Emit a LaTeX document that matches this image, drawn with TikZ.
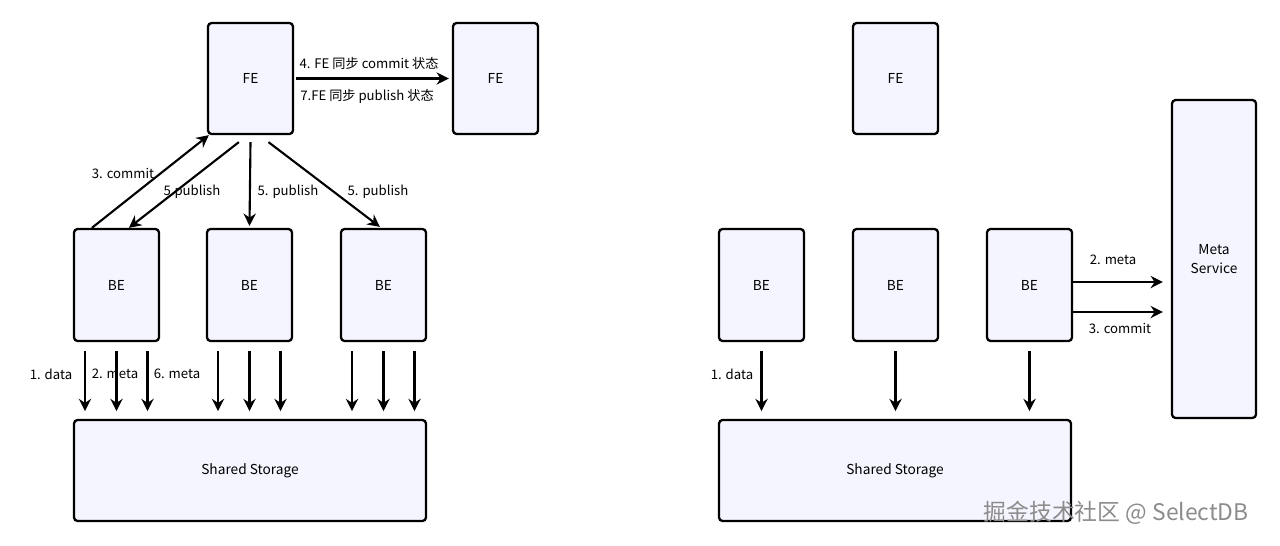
\documentclass[tikz,border=0pt]{standalone}
\usepackage{fontspec}
\setmainfont{Noto Sans CJK SC}
\usetikzlibrary{arrows.meta,positioning,calc}

\tikzset{
  box/.style={draw=black, line width=1.3pt, fill=blue!4!white, rounded corners=2pt, inner sep=0pt, font=\fontsize{7.8}{10}\selectfont},
  flow/.style={-{Stealth[length=7pt,width=7pt]}, line width=1.2pt},
  lbl/.style={font=\fontsize{7.5}{9}\selectfont, inner sep=1pt}
}

\begin{document}
\begin{tikzpicture}[x=0.02cm, y=-0.02cm]
          % Frame
          \useasboundingbox (0,0) rectangle (1280,545);

          % Left: boxes
          \node[box, minimum width=1.7cm, minimum height=2.22cm] (fe) at (250.5,78.5) {FE};
          \node[box, minimum width=1.7cm, minimum height=2.22cm] (feb) at (495.5,78.5) {FE};
          \foreach \name/\x in {bea/116.5, beb/249.5, bec/383.5}
              \node[box, minimum width=1.7cm, minimum height=2.24cm] (\name) at (\x,285) {BE};
          \node[box, minimum width=7.04cm, minimum height=2.02cm] (st) at (250,470.5) {Shared Storage};

          % Left: FE to FE
          \draw[flow] ($(fe.east)+(2,0)$) -- ($(feb.west)+(-3,0)$);
          \node[lbl] (sync1) at (369,63) {4. FE 同步 commit 状态};
          \node[lbl] (sync2) at (367,96) {7.FE 同步 publish 状态};

          % Left: commit / publish
          \draw[flow] ($(bea.north west)+(19,0)$) -- ($(fe.south west)+(2,0)$);
          \draw[flow] ($(fe.south west)+(32,7)$) -- ($(bea.north west)+(56,0)$);
          \draw[flow] ($(fe.south)+(0,7)$) -- ($(beb.north)+(0,-2)$);
          \draw[flow] ($(fe.south)+(18,7)$) -- ($(bec.north west)+(40,-1)$);
          \node[lbl] (cm) at (123,173) {3. commit};
          \node[lbl] (pa) at (192,192) {5.publish};
          \node[lbl] (pb) at (288,192) {5. publish};
          \node[lbl] (pc) at (378,192) {5. publish};

          % Left: BE to storage
          \foreach \name in {bea, beb, bec}
            \foreach \dx in {-31.5, 0, 31}
              \draw[flow] ($(\name.south)+(\dx,9)$) -- ($(\name.south)+(\dx,69)$);
          \node[lbl] (da) at (51,374) {1. data};
          \node[lbl] (ma) at (115,374) {2. meta};
          \node[lbl] (mb) at (177,374) {6. meta};

          % Right: boxes
          \node[box, minimum width=1.7cm, minimum height=2.22cm] (fer) at (895.5,78.5) {FE};
          \foreach \name/\x in {bed/761.5, bee/895.5, bef/1029.5}
              \node[box, minimum width=1.7cm, minimum height=2.24cm] (\name) at (\x,285) {BE};
          \node[box, minimum width=7.04cm, minimum height=2.02cm] (str) at (895,470.5) {Shared Storage};
          \node[box, minimum width=1.68cm, minimum height=6.36cm, align=center] (ms) at (1214,259) {Meta\\[1pt]Service};

          % Right: arrows
          \foreach \name in {bed, bee, bef}
              \draw[flow] ($(\name.south)+(0,9)$) -- ($(\name.south)+(0,69)$);
          \node[lbl] (db) at (732,374) {1. data};
          \draw[flow] ($(bef.east)+(0,-3)$) -- ($(ms.west)+(-8,23)$);
          \draw[flow] ($(bef.east)+(0,27)$) -- ($(ms.west)+(-8,53)$);
          \node[lbl] (mc) at (1113,260) {2. meta};
          \node[lbl] (cn) at (1120,328) {3. commit};

          % Watermark
          \node[font=\fontsize{13}{15}\selectfont, text=black!45] (wm) at (1116,513) {掘金技术社区 @ SelectDB};
\end{tikzpicture}
\end{document}
